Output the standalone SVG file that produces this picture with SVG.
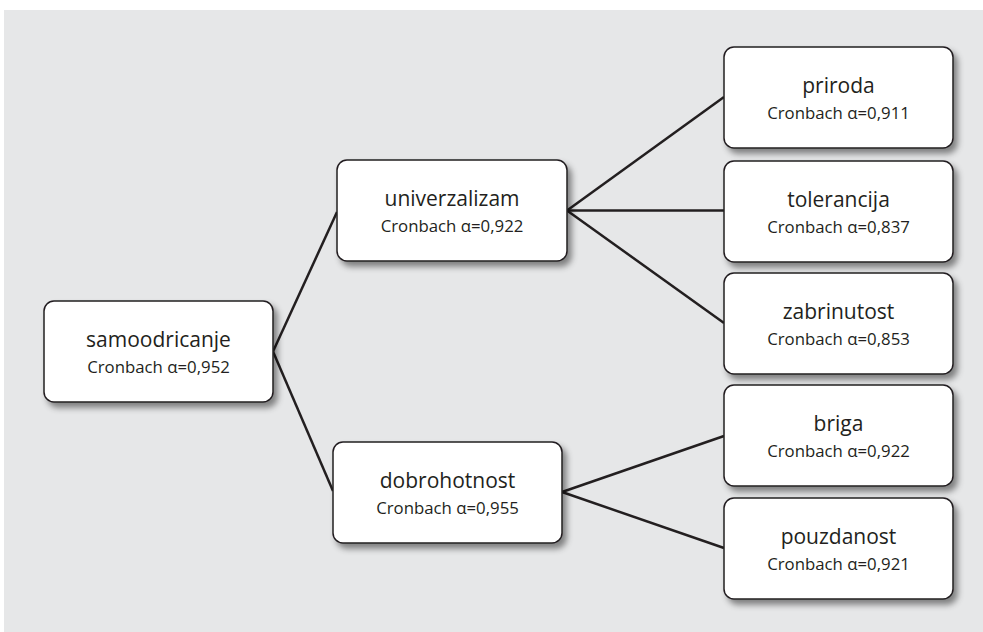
<svg xmlns="http://www.w3.org/2000/svg" width="983" height="632" viewBox="0 0 983 632">
<defs>
<filter id="sh" x="-10%" y="-10%" width="130%" height="140%">
<feDropShadow dx="4" dy="5" stdDeviation="3" flood-color="#000" flood-opacity="0.45"/>
</filter>
<style>
.box{fill:#fff;stroke:#231f20;stroke-width:1.5;filter:url(#sh)}
.t{font-family:"Open Sans","Noto Sans",sans-serif;font-size:21px;fill:#231f20;text-anchor:middle}
.s{font-family:"Open Sans","Noto Sans",sans-serif;font-size:16.8px;fill:#231f20;text-anchor:middle}
.c{stroke:#231f20;stroke-width:2.5;fill:none}
</style>
</defs>
<rect x="0" y="0" width="983" height="632" fill="#fff"/>
<rect x="4" y="10" width="979" height="622" fill="#e6e7e8"/>
<g id="connectors">
<line class="c" x1="273" y1="351.5" x2="337" y2="212"/>
<line class="c" x1="273" y1="351.5" x2="333" y2="491"/>
<line class="c" x1="567" y1="210.5" x2="724" y2="97"/>
<line class="c" x1="567" y1="210.5" x2="724" y2="210.5"/>
<line class="c" x1="567" y1="210.5" x2="724" y2="323"/>
<line class="c" x1="562" y1="492" x2="724" y2="436"/>
<line class="c" x1="562" y1="492" x2="724" y2="548"/>
</g>
<g id="samoodricanje">
<rect class="box" x="44" y="301" width="229" height="101" rx="10"/>
<text class="t" x="158.5" y="347">samoodricanje</text>
<text class="s" x="158.5" y="373">Cronbach α=0,952</text>
</g>
<g id="univerzalizam">
<rect class="box" x="337" y="160" width="230" height="101" rx="10"/>
<text class="t" x="452" y="206">univerzalizam</text>
<text class="s" x="452" y="232">Cronbach α=0,922</text>
</g>
<g id="dobrohotnost">
<rect class="box" x="333" y="442" width="229" height="101" rx="10"/>
<text class="t" x="447.5" y="488">dobrohotnost</text>
<text class="s" x="447.5" y="514">Cronbach α=0,955</text>
</g>
<g id="priroda">
<rect class="box" x="724" y="47" width="229" height="101" rx="10"/>
<text class="t" x="838.5" y="93">priroda</text>
<text class="s" x="838.5" y="119">Cronbach α=0,911</text>
</g>
<g id="tolerancija">
<rect class="box" x="724" y="161" width="229" height="101" rx="10"/>
<text class="t" x="838.5" y="207">tolerancija</text>
<text class="s" x="838.5" y="233">Cronbach α=0,837</text>
</g>
<g id="zabrinutost">
<rect class="box" x="724" y="273" width="229" height="101" rx="10"/>
<text class="t" x="838.5" y="319">zabrinutost</text>
<text class="s" x="838.5" y="345">Cronbach α=0,853</text>
</g>
<g id="briga">
<rect class="box" x="724" y="385" width="229" height="101" rx="10"/>
<text class="t" x="838.5" y="431">briga</text>
<text class="s" x="838.5" y="457">Cronbach α=0,922</text>
</g>
<g id="pouzdanost">
<rect class="box" x="724" y="498" width="229" height="101" rx="10"/>
<text class="t" x="838.5" y="544">pouzdanost</text>
<text class="s" x="838.5" y="570">Cronbach α=0,921</text>
</g>
</svg>
